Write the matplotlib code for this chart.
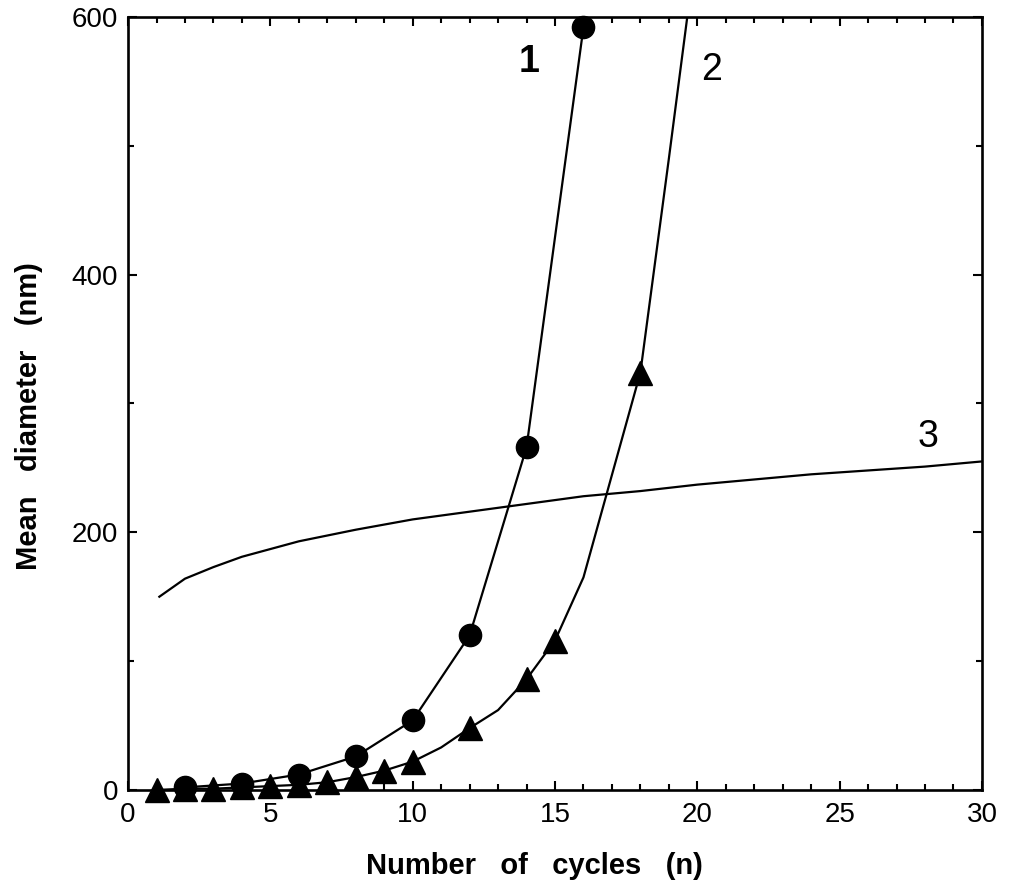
import matplotlib
matplotlib.use("Agg")
import matplotlib.pyplot as plt
from matplotlib.ticker import MultipleLocator

plt.rcParams['font.family'] = ['Liberation Sans', 'DejaVu Sans']

# curve 1 (circles)
x1 = [2, 4, 6, 8, 10, 12, 14, 16]
y1 = [2, 5, 12, 26, 54, 120, 266, 592]

# curve 2 (triangles at measured points, line through all)
x2_line = [1, 2, 3, 4, 5, 6, 7, 8, 9, 10, 11, 12, 13, 14, 15, 16, 18, 19, 20]
y2_line = [0, 1, 1, 2, 3, 4, 6, 10, 15, 22, 33, 48, 62, 86, 116, 165, 324, 490, 660]
x2_mark = [1, 2, 3, 4, 5, 6, 7, 8, 9, 10, 12, 14, 15, 18]
y2_mark = [0, 1, 1, 2, 3, 4, 6, 10, 15, 22, 48, 86, 116, 324]

# curve 3 (line only)
x3 = [1.1, 2, 3, 4, 5, 6, 8, 10, 12, 14, 16, 18, 20, 22, 24, 26, 28, 30]
y3 = [150, 164, 173, 181, 187, 193, 202, 210, 216, 222, 228, 232, 237, 241, 245, 248, 251, 255]

fig = plt.figure(figsize=(10.09, 8.88), dpi=100)
ax = fig.add_axes([0.1269, 0.1104, 0.8463, 0.8705])

ax.plot(x1, y1, color='black', lw=1.6, marker='o', ms=16, zorder=3, clip_on=False)
ax.plot(x2_line, y2_line, color='black', lw=1.6, zorder=3)
ax.plot(x2_mark, y2_mark, ls='none', color='black', marker='^', ms=17, zorder=3, clip_on=False)
ax.plot(x3, y3, color='black', lw=1.6)

ax.text(14.1, 565, "1", fontsize=27, fontweight='bold', ha='center', va='center')
ax.text(20.5, 559, "2", fontsize=27, ha='center', va='center')
ax.text(28.1, 274, "3", fontsize=27, ha='center', va='center')

ax.set_xlim(0, 30)
ax.set_ylim(0, 600)
ax.xaxis.set_major_locator(MultipleLocator(5))
ax.xaxis.set_minor_locator(MultipleLocator(1))
ax.yaxis.set_major_locator(MultipleLocator(200))
ax.yaxis.set_minor_locator(MultipleLocator(100))
ax.tick_params(which='both', direction='in', top=True, right=True, width=1.5, labelsize=20)
ax.tick_params(which='major', length=6.5)
ax.tick_params(which='minor', length=4)
ax.tick_params(axis='x', pad=9)
ax.tick_params(axis='y', pad=7)
for s in ax.spines.values():
    s.set_linewidth(1.9)

ax.set_xlabel("Number   of   cycles   (n)", fontsize=21, fontweight='bold')
ax.set_ylabel("Mean   diameter   (nm)", fontsize=21, fontweight='bold')
ax.xaxis.set_label_coords(0.476, -0.080)
ax.yaxis.set_label_coords(-0.1, 0.484)

plt.savefig("out.png")
